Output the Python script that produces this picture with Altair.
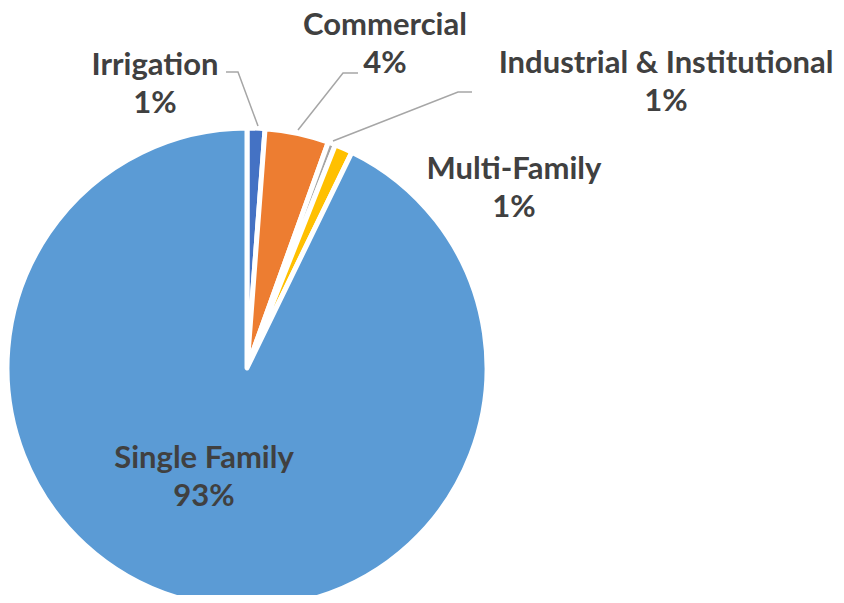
import altair as alt
import pandas as pd

# ---- data ----
categories = ["Irrigation", "Commercial", "Industrial & Institutional", "Multi-Family", "Single Family"]
shares = [1.2, 4.3, 0.5, 1.2, 92.8]
colors = ["#4472C4", "#ED7D31", "#A5A5A5", "#FFC000", "#5B9BD5"]

# ---- layout (view coordinates) ----
CX, CY, R = 239, 360, 240
label_x = [147, 377, 658, 506, 196]
label_y = [67, 27, 65, 171, 460]

leader_group = ["Irrigation"] * 3 + ["Commercial"] * 3 + ["Industrial & Institutional"] * 3
leader_order = [0, 1, 2] * 3
leader_x = [218, 230, 250, 350, 335, 290, 464, 450, 325]
leader_y = [64, 64, 118, 65, 65, 122, 84, 84, 133]

df = pd.DataFrame({
    "category": categories,
    "share": shares,
    "order": list(range(len(categories))),
})
df["label"] = [f"{c}\n{int(v + 0.5)}%" for c, v in zip(categories, shares)]
df["lx"] = label_x
df["ly"] = label_y

lines_df = pd.DataFrame({"g": leader_group, "o": leader_order, "x": leader_x, "y": leader_y})

pie = alt.Chart(df).mark_arc(
    outerRadius=R, stroke="white", strokeWidth=5, strokeJoin="round"
).encode(
    theta=alt.Theta("share:Q", stack=True),
    order=alt.Order("order:Q"),
    color=alt.Color("category:N", scale=alt.Scale(domain=categories, range=colors), legend=None),
    x=alt.value(CX),
    y=alt.value(CY),
)

leaders = alt.Chart(lines_df).mark_line(color="#A6A6A6", strokeWidth=1.5).encode(
    x=alt.X("x:Q", scale=None, axis=None),
    y=alt.Y("y:Q", scale=None, axis=None),
    detail="g:N",
    order="o:Q",
)

labels = alt.Chart(df).mark_text(
    font="Lato", fontWeight="bold", fontSize=31, color="#404040",
    align="center", baseline="alphabetic", lineBreak="\n", lineHeight=38,
).encode(
    x=alt.X("lx:Q", scale=None, axis=None),
    y=alt.Y("ly:Q", scale=None, axis=None),
    text="label:N",
)

chart = alt.layer(pie, leaders, labels).properties(
    width=828, height=587, padding=0, autosize=alt.AutoSizeParams(type="none")
).configure_view(stroke=None)

chart.save("out.html", embed_options={"renderer": "svg", "actions": False})
